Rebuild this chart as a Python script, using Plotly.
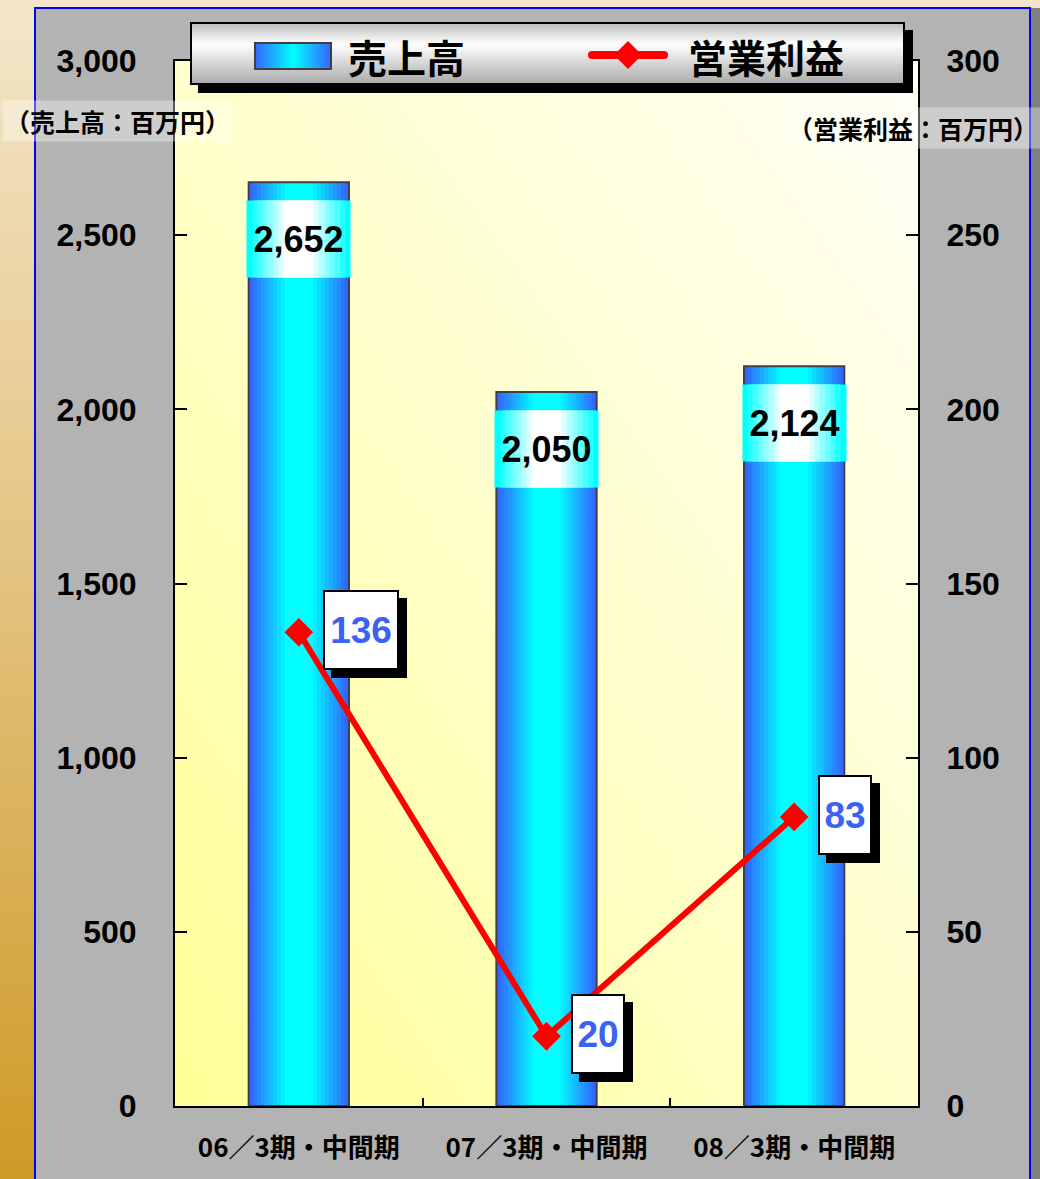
import base64
import plotly.graph_objects as go

# ---------------- data ----------------
categories = ["06／3期・中間期", "07／3期・中間期", "08／3期・中間期"]
sales = [2652, 2050, 2124]            # 売上高 (百万円)
profit = [136, 20, 83]                # 営業利益 (百万円)
left_ticks = [0, 500, 1000, 1500, 2000, 2500, 3000]
right_ticks = [0, 50, 100, 150, 200, 250, 300]
legend_names = ["売上高", "営業利益"]
unit_left = "（売上高：百万円）"
unit_right = "（営業利益：百万円）"

# ---------------- geometry / style ----------------
W, H = 1040, 1179
L, R, T, B = 175, 918, 61, 1106
PW, PH = R - L, B - T
NUM = "Liberation Sans, Arial, sans-serif"
CJK = "Noto Sans CJK JP, sans-serif"


def px(x):
    return (x - L) / PW


def py(y):
    return (B - y) / PH


def hex2rgb(h):
    h = h.lstrip("#")
    return tuple(int(h[i:i + 2], 16) for i in (0, 2, 4))


def lerp(c1, c2, t):
    a, b = hex2rgb(c1), hex2rgb(c2)
    return "rgb(%d,%d,%d)" % tuple(round(a[i] + (b[i] - a[i]) * t) for i in range(3))


def svg_uri(svg):
    return "data:image/svg+xml;base64," + base64.b64encode(svg.encode("utf-8")).decode("ascii")


fig = go.Figure()

# bars with horizontal blue -> cyan -> blue gradient (overlaid narrower bars)
BW = 0.405
N = 10
for i in range(N):
    t = i / (N - 1)
    fig.add_trace(go.Bar(
        x=categories, y=sales, width=BW * (1 - 0.72 * t),
        marker=dict(color=lerp("#3366ff", "#00ffff", t), line=dict(width=0)),
        hoverinfo="skip", showlegend=False,
    ))
fig.add_trace(go.Bar(
    x=categories, y=sales, width=BW, name=legend_names[0],
    marker=dict(color="rgba(0,0,0,0)", line=dict(color="#404048", width=2)),
    hoverinfo="skip", showlegend=False,
))

# operating profit line
fig.add_trace(go.Scatter(
    x=categories, y=profit, yaxis="y2", mode="lines+markers", name=legend_names[1],
    line=dict(color="#ff0000", width=6),
    marker=dict(symbol="diamond", size=22, color="#ff0000"),
    hoverinfo="skip", showlegend=False,
))

annotations = []

# sales value labels (cyan-white-cyan boxes)
BOXW, BOXH = 103, 76
M = 8
for c, v in zip(categories, sales):
    for i in range(M):
        t = i / (M - 1)
        annotations.append(dict(
            x=c, y=v, xref="x", yref="y", yshift=-57, text=" ", showarrow=False,
            width=BOXW * (1 - 0.72 * t), height=BOXH, borderpad=0,
            bgcolor=lerp("#00ffff", "#ffffff", t), font=dict(size=10),
        ))
    annotations.append(dict(
        x=c, y=v, xref="x", yref="y", yshift=-57, text=f"{v:,}", showarrow=False,
        width=BOXW, height=BOXH, borderpad=0,
        font=dict(family=NUM, size=36, color="#000000", weight="bold"),
    ))

# profit value labels (white boxes with black drop shadow)
for c, v in zip(categories, profit):
    s = str(v)
    w = 22 * len(s) + 6
    common = dict(x=c, y=v, xref="x", yref="y2", xanchor="left", yanchor="middle",
                  showarrow=False, width=w, height=76, borderpad=0, borderwidth=2)
    annotations.append(dict(common, xshift=24 + 8, yshift=2 - 8, text=" ",
                            bgcolor="#000000", bordercolor="#000000", font=dict(size=10)))
    annotations.append(dict(common, xshift=24, yshift=2, text=s,
                            bgcolor="#ffffff", bordercolor="#000000",
                            font=dict(family=NUM, size=37, color="#3a62f5", weight="bold")))

# unit labels
annotations.append(dict(
    x=px(2), y=py(121), xref="paper", yref="paper", xanchor="left", yanchor="middle",
    text=unit_left, showarrow=False, bgcolor="rgba(255,255,255,0.35)", borderpad=2,
    font=dict(family=CJK, size=25, color="#000000", weight="bold"),
))
annotations.append(dict(
    x=px(785), y=py(128), xref="paper", yref="paper", xanchor="left", yanchor="middle",
    text=unit_right, showarrow=False, bgcolor="rgba(255,255,255,0.35)", borderpad=2,
    font=dict(family=CJK, size=25, color="#000000", weight="bold"),
))

# legend texts
annotations.append(dict(
    x=px(406), y=py(56), xref="paper", yref="paper", xanchor="center", yanchor="middle",
    text=legend_names[0], showarrow=False,
    font=dict(family=CJK, size=39, color="#000000", weight="bold"),
))
annotations.append(dict(
    x=px(766), y=py(56), xref="paper", yref="paper", xanchor="center", yanchor="middle",
    text=legend_names[1], showarrow=False,
    font=dict(family=CJK, size=39, color="#000000", weight="bold"),
))

# background decoration (page frame + plot-area gradient)
bg_svg = f'''<svg xmlns="http://www.w3.org/2000/svg" width="{W}" height="{H}" viewBox="0 0 {W} {H}" preserveAspectRatio="none">
<defs>
<linearGradient id="g" x1="0" y1="0" x2="0" y2="1">
<stop offset="0" stop-color="#f3e6ca"/><stop offset="0.5" stop-color="#e3c27e"/><stop offset="1" stop-color="#cf9a26"/></linearGradient>
<linearGradient id="p" x1="0" y1="1" x2="1" y2="0">
<stop offset="0" stop-color="#ffff96"/><stop offset="0.5" stop-color="#ffffcc"/><stop offset="1" stop-color="#fffff6"/></linearGradient>
</defs>
<rect x="0" y="0" width="{W}" height="{H}" fill="url(#g)"/>
<rect x="35" y="8" width="{W - 35}" height="{H - 8}" fill="#b3b3b3"/>
<rect x="1031" y="8" width="9" height="{H - 8}" fill="#7f7f7f"/>
<rect x="35" y="8" width="995" height="{H + 10}" fill="none" stroke="#0000ff" stroke-width="2"/>
<rect x="{L}" y="{T}" width="{PW}" height="{PH}" fill="url(#p)"/>
</svg>'''

# legend box decoration
LX, LY, LW, LH = 190, 22, 715, 63
leg_svg = f'''<svg xmlns="http://www.w3.org/2000/svg" width="{LW + 9}" height="{LH + 9}" viewBox="0 0 {LW + 9} {LH + 9}" preserveAspectRatio="none">
<defs>
<linearGradient id="l" x1="0" y1="0" x2="0" y2="1">
<stop offset="0" stop-color="#bdbdbd"/><stop offset="0.35" stop-color="#ffffff"/><stop offset="1" stop-color="#a9a9a9"/></linearGradient>
<linearGradient id="s" x1="0" y1="0" x2="1" y2="0">
<stop offset="0" stop-color="#3366ff"/><stop offset="0.5" stop-color="#00ffff"/><stop offset="1" stop-color="#3366ff"/></linearGradient>
</defs>
<rect x="8" y="8" width="{LW}" height="{LH}" fill="#000000"/>
<rect x="1" y="1" width="{LW - 2}" height="{LH - 2}" fill="url(#l)" stroke="#000000" stroke-width="2"/>
<rect x="{255 - LX}" y="{43 - LY}" width="76" height="26" fill="url(#s)" stroke="#404040" stroke-width="2"/>
<line x1="{592 - LX}" y1="{55 - LY}" x2="{664 - LX}" y2="{55 - LY}" stroke="#ff0000" stroke-width="8" stroke-linecap="round"/>
<polygon points="{628 - LX},{41 - LY} {642 - LX},{55 - LY} {628 - LX},{69 - LY} {614 - LX},{55 - LY}" fill="#ff0000"/>
</svg>'''

images = [
    dict(source=svg_uri(bg_svg), xref="paper", yref="paper", x=px(0), y=py(0),
         sizex=W / PW, sizey=H / PH, xanchor="left", yanchor="top",
         sizing="stretch", layer="below"),
    dict(source=svg_uri(leg_svg), xref="paper", yref="paper", x=px(LX), y=py(LY),
         sizex=(LW + 9) / PW, sizey=(LH + 9) / PH, xanchor="left", yanchor="top",
         sizing="stretch", layer="above"),
]

fig.update_layout(
    width=W, height=H,
    margin=dict(l=L, r=W - R, t=T, b=H - B, pad=0),
    paper_bgcolor="#b3b3b3", plot_bgcolor="rgba(0,0,0,0)",
    barmode="overlay", showlegend=False,
    images=images, annotations=annotations,
    xaxis=dict(
        type="category", tickson="boundaries", ticks="inside", ticklen=8, tickwidth=2,
        tickcolor="#000000", showline=True, linecolor="#000000", linewidth=2, mirror=True,
        showgrid=False, ticklabelstandoff=18,
        tickfont=dict(family=CJK, size=26, color="#000000", weight="bold"),
    ),
    yaxis=dict(
        range=[0, 3000], tickvals=left_ticks, tickformat=",", ticks="inside", ticklen=12,
        tickwidth=2, tickcolor="#000000", showline=True, linecolor="#000000", linewidth=2,
        mirror=True, showgrid=False, zeroline=False, ticklabelstandoff=30,
        tickfont=dict(family=NUM, size=32, color="#000000", weight="bold"),
    ),
    yaxis2=dict(
        range=[0, 300], tickvals=right_ticks, overlaying="y", side="right", ticks="inside",
        ticklen=12, tickwidth=2, tickcolor="#000000", showline=True, linecolor="#000000",
        linewidth=2, showgrid=False, zeroline=False, ticklabelstandoff=20,
        tickfont=dict(family=NUM, size=32, color="#000000", weight="bold"),
    ),
)

fig.write_html(
    "out.html",
    config={"displayModeBar": False},
    post_script="document.body.style.margin='0';document.body.style.overflow='hidden';",
)
